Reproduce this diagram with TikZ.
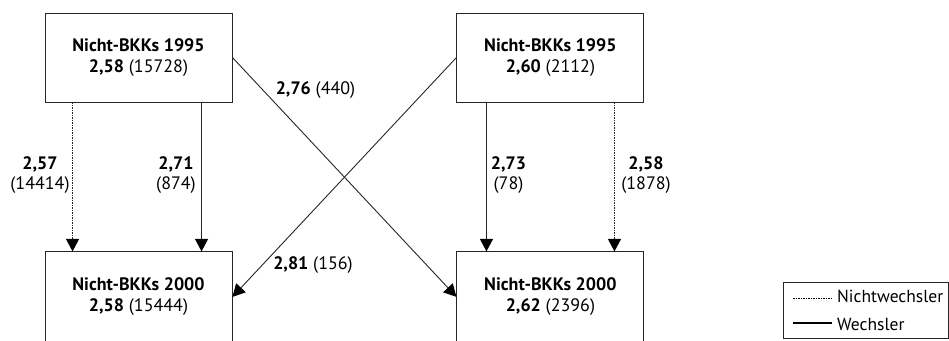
\documentclass[tikz,border=0pt]{standalone}
\usepackage{fontspec}
\setmainfont{PT Sans}
\usetikzlibrary{arrows.meta, positioning}
\tikzset{
    block/.style={
        rectangle,
        draw=black!85,
        line width=0.9pt,
        minimum width=187pt,
        minimum height=89pt,
        align=center,
        font=\fontsize{18pt}{21pt}\selectfont
    },
    lbl/.style={
        align=center,
        inner sep=0pt,
        font=\fontsize{18pt}{20pt}\selectfont
    },
    wechsler/.style={
        line width=0.9pt,draw=black!85,-{Triangle[width=13pt,length=12.5pt,color=black]}
    },
    nichtwechsler/.style={
        wechsler,dash pattern=on 1.5pt off 1pt
    },
    legendbox/.style={
        rectangle,
        draw=black!85,
        line width=0.9pt,
        minimum width=165pt,
        minimum height=56pt
    },
    legendtext/.style={
        anchor=base west,
        inner sep=0pt,
        font=\fontsize{17.5pt}{19pt}\selectfont
    }
}

\begin{document}
\begin{tikzpicture}[x=1pt,y=1pt,node distance=224pt]
\useasboundingbox (0,0) rectangle (949,340);

\node (tl) [block] at (138.5,282.5) {\textbf{Nicht-BKKs 1995}\\\textbf{2,58} (15728)};
\node (tr) [block, right=of tl] {\textbf{Nicht-BKKs 1995}\\\textbf{2,60} (2112)};
\node (bl) [block, minimum height=90pt, below=149pt of tl] {\textbf{Nicht-BKKs 2000}\\\textbf{2,58} (15444)};
\node (br) [block, minimum height=90pt, right=of bl] {\textbf{Nicht-BKKs 2000}\\\textbf{2,62} (2396)};

% Nichtwechsler / Wechsler
\draw [nichtwechsler] ([xshift=28pt]tl.south west) -- ([xshift=28pt]bl.north west);
\draw [wechsler] ([xshift=157pt]tl.south west) -- ([xshift=157pt]bl.north west);
\draw [wechsler] ([xshift=30pt]tr.south west) -- ([xshift=30pt]br.north west);
\draw [nichtwechsler] ([xshift=158pt]tr.south west) -- ([xshift=158pt]br.north west);
\draw [wechsler] (tl.east) -- (br.west);
\draw [wechsler] (tr.west) -- (bl.east);

\node (l257) [lbl] at (40,165) {\textbf{2,57}\\(14414)};
\node (l271) [lbl] at (176,165) {\textbf{2,71}\\(874)};
\node (l273) [lbl] at (508.5,165) {\textbf{2,73}\\(78)};
\node (l258) [lbl] at (646,165) {\textbf{2,58}\\(1878)};
\node (l276) [lbl] at (315.5,250) {\textbf{2,76} (440)};
\node (l281) [lbl] at (313,75) {\textbf{2,81} (156)};

% Legende
\node (legend) [legendbox] at (865.5,30) {};
\coordinate (nwa) at (793,42);
\coordinate (nwb) at (832,42);
\coordinate (wa) at (793,17);
\coordinate (wb) at (832,17);
\draw [line width=0.8pt, dash pattern=on 1.5pt off 1pt] (nwa) -- (nwb);
\draw [line width=2.2pt] (wa) -- (wb);
\node (nwtext) [legendtext] at (837,38) {Nichtwechsler};
\node (wtext) [legendtext] at (837,10) {Wechsler};

\end{tikzpicture}
\end{document}
